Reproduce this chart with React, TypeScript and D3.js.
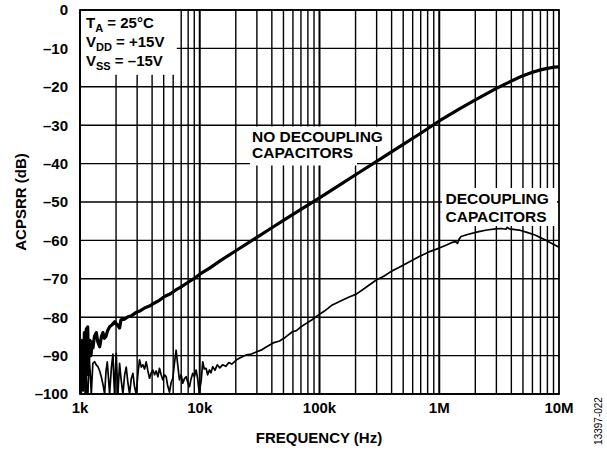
import React from 'react';
import * as d3 from 'd3';

// ACPSRR vs frequency
const noDecouplingData: [number, number][] = [
  [1000, -89], [1012, -93], [1025, -86], [1038, -96], [1050, -88], [1062, -99], [1075, -90],
  [1088, -84], [1100, -97], [1115, -86], [1130, -83], [1145, -91], [1160, -82.5], [1175, -95],
  [1190, -88], [1210, -86], [1235, -90], [1260, -86.5], [1283, -88], [1320, -85], [1367, -84],
  [1410, -86.5], [1460, -87.7], [1510, -85], [1555, -84], [1600, -85.5], [1647, -85],
  [1700, -83.5], [1768, -82.5], [1850, -82], [1947, -81.2], [2050, -82], [2141, -82.8],
  [2195, -80.7], [2350, -80.5], [2512, -79.9], [2700, -79.6], [2929, -78.8], [3200, -78.3],
  [3460, -77.6], [3800, -77.1], [4190, -76.3], [4600, -75.6], [5080, -74.6], [5700, -73.9],
  [6310, -72.9], [7000, -72.1], [8000, -70.9], [9000, -69.9], [10000, -68.8], [12000, -67.3],
  [15000, -65.2], [20000, -62.7], [25000, -60.8], [30000, -59.2], [40000, -56.7],
  [50000, -54.8], [70000, -51.9], [100000, -48.9], [150000, -45.4], [200000, -42.9],
  [300000, -39.4], [500000, -35], [700000, -32.1], [1e6, -28.9], [1.5e6, -25.6], [2e6, -23.4],
  [3e6, -20.4], [4e6, -18.5], [5e6, -17.1], [6e6, -16.2], [7e6, -15.6], [8e6, -15.2],
  [9e6, -14.9], [1e7, -14.8],
];

const decouplingData: [number, number][] = [
  [1000, -90], [1008, -97], [1016, -88.5], [1025, -100], [1035, -92], [1045, -90.3],
  [1065, -90.3], [1090, -90.3], [1105, -100], [1125, -95], [1145, -100], [1166, -99.5],
  [1190, -91], [1215, -94], [1243, -100], [1280, -92], [1325, -91.6], [1370, -92.5],
  [1413, -92.9], [1460, -94], [1506, -95.5], [1555, -97.5], [1605, -100], [1650, -94],
  [1690, -91.6], [1730, -96], [1767, -100], [1830, -93], [1884, -89.6], [1915, -96],
  [1945, -100], [1975, -94], [2008, -89.4], [2040, -95], [2074, -100], [2141, -92],
  [2200, -96], [2282, -100], [2360, -95], [2432, -93], [2510, -97], [2593, -100],
  [2680, -96], [2766, -94.6], [2850, -98], [2946, -100], [3040, -95], [3141, -91.1],
  [3250, -93], [3350, -92.4], [3460, -93.5], [3571, -91.6], [3690, -94], [3807, -95.9],
  [3930, -94.5], [4058, -93.75], [4190, -95], [4326, -94], [4470, -95.5], [4612, -93.3],
  [4760, -95], [4917, -96.3], [5080, -95], [5241, -95.5], [5410, -98], [5587, -99.5],
  [5770, -97], [5957, -95.9], [6150, -92], [6350, -88.6], [6550, -92.5], [6770, -96.3],
  [7000, -95], [7217, -97.2], [7450, -96], [7694, -95.5], [7950, -97], [8202, -98.1],
  [8470, -96], [8744, -94.6], [9030, -95.5], [9322, -93.75], [9600, -96], [9800, -98.5],
  [9937, -100], [10100, -98], [10300, -96.3], [10593, -91.6], [10900, -93.5],
  [11293, -93.3], [11650, -95], [12038, -93.75], [12400, -94.5], [12834, -92.9],
  [13400, -93.8], [14000, -92.4], [14700, -93.2], [15500, -92.4], [16500, -92.8],
  [17500, -91.8], [18500, -92.2], [20300, -91.1], [22000, -90.5], [24600, -89.8],
  [27000, -89.6], [29900, -89], [33000, -88.5], [36200, -87.7], [41000, -86.7],
  [46400, -86.2], [52000, -85.2], [59400, -83.8], [64200, -83.5], [70000, -82.5],
  [77700, -81.6], [87300, -80.6], [96200, -79.6], [110000, -78.4], [128000, -76.8],
  [150000, -75.8], [175000, -74.8], [203000, -74], [250000, -72], [298000, -70.3],
  [350000, -69.2], [400000, -68], [464000, -67], [560000, -65.6], [681000, -64.2],
  [820000, -63], [1e6, -62], [1.15e6, -61.2], [1.29e6, -60.5], [1.37e6, -60.3],
  [1.42e6, -60.8], [1.47e6, -59.6], [1.52e6, -59], [1.75e6, -58.4], [2.14e6, -57.7],
  [2.5e6, -57.3], [2.96e6, -57], [3.3e6, -56.9], [3.6e6, -57.1], [3.7e6, -56.6],
  [3.85e6, -57], [4.64e6, -57.3], [5.4e6, -57.9], [6.3e6, -58.6], [7.7e6, -59.9],
  [8.8e6, -60.9], [1e7, -61.8],
];

const xTicks = [1e3, 1e4, 1e5, 1e6, 1e7];
const xTickLabels = ['1k', '10k', '100k', '1M', '10M'];
const yTicks = [0, -10, -20, -30, -40, -50, -60, -70, -80, -90, -100];
const yTickLabels = ['0', '–10', '–20', '–30', '–40', '–50', '–60', '–70', '–80', '–90', '–100'];

const FONT = '"Liberation Sans", Arial, Helvetica, sans-serif';

export default function App() {
  const width = 607;
  const height = 450;
  const left = 80;
  const right = 559;
  const top = 10;
  const bottom = 394;

  const x = d3.scaleLog().domain([1e3, 1e7]).range([left, right]);
  const y = d3.scaleLinear().domain([0, -100]).range([top, bottom]);

  // minor grid: 1..9 per decade
  const gridX: { f: number; major: boolean }[] = [];
  for (let dec = 1e3; dec < 1e7; dec *= 10) {
    for (let m = 1; m < 10; m++) gridX.push({ f: dec * m, major: m === 1 });
  }

  const line = d3.line<[number, number]>()
    .x(d => x(d[0]))
    .y(d => y(d[1]));

  return (
    <svg
      width={width}
      height={height}
      style={{ position: 'absolute', left: 0, top: 0, background: '#fff' }}
      fontFamily={FONT}
    >
      <defs>
        <clipPath id="plot">
          <rect x={left} y={top} width={right - left} height={bottom - top} />
        </clipPath>
      </defs>
      <rect x={0} y={0} width={width} height={height} fill="#fff" />

      {/* grid */}
      {gridX.map(g => (
        <line key={g.f} x1={x(g.f)} x2={x(g.f)} y1={top} y2={bottom}
          stroke="#000" strokeWidth={g.major ? 2 : 1.4} />
      ))}
      {yTicks.map(t => (
        <line key={t} x1={left} x2={right} y1={y(t)} y2={y(t)} stroke="#000" strokeWidth={1.4} />
      ))}

      {/* label backgrounds */}
      <rect x={left + 0.8} y={top + 0.8} width={96} height={64} fill="#fff" />
      <rect x={238} y={126.5} width={149} height={19.5} fill="#fff" />
      <rect x={250} y={146} width={107} height={19.5} fill="#fff" />
      <rect x={442} y={188} width={115} height={38} fill="#fff" />

      {/* curves */}
      <g clipPath="url(#plot)">
        <path d={line(decouplingData) || ''} fill="none" stroke="#000" strokeWidth={1.7}
          strokeLinejoin="round" />
        <path d={line(noDecouplingData) || ''} fill="none" stroke="#000" strokeWidth={3.2}
          strokeLinejoin="round" />
      </g>

      <rect x={left} y={top} width={right - left} height={bottom - top}
        fill="none" stroke="#000" strokeWidth={1.8} />

      {/* axes labels */}
      {yTicks.map((t, i) => (
        <text key={t} x={68} y={y(t)} dy="0.36em" textAnchor="end"
          fontSize={15} fontWeight="bold">{yTickLabels[i]}</text>
      ))}
      {xTicks.map((t, i) => (
        <text key={t} x={x(t)} y={413} textAnchor="middle"
          fontSize={15} fontWeight="bold">{xTickLabels[i]}</text>
      ))}
      <text x={319} y={442.5} textAnchor="middle" fontSize={15} fontWeight="bold">
        FREQUENCY (Hz)
      </text>
      <text transform="translate(26,202) rotate(-90)" textAnchor="middle"
        fontSize={15} fontWeight="bold">ACPSRR (dB)</text>
      <text transform="translate(601.5,421) rotate(-90)" textAnchor="middle"
        fontSize={10}>13397-022</text>

      {/* conditions */}
      <g fontSize={15} fontWeight="bold">
        <text x={86} y={28}>T<tspan fontSize={11} dy={4}>A</tspan><tspan dy={-4}> = 25°C</tspan></text>
        <text x={86} y={47}>V<tspan fontSize={11} dy={4}>DD</tspan><tspan dy={-4}> = +15V</tspan></text>
        <text x={86} y={66}>V<tspan fontSize={11} dy={4}>SS</tspan><tspan dy={-4}> = –15V</tspan></text>
      </g>

      {/* curve labels */}
      <g fontSize={15.5} fontWeight="bold">
        <text x={252} y={142.3}>NO DECOUPLING</text>
        <text x={252} y={158.3}>CAPACITORS</text>
        <text x={445.5} y={204.3}>DECOUPLING</text>
        <text x={445.5} y={221.7}>CAPACITORS</text>
      </g>
    </svg>
  );
}
